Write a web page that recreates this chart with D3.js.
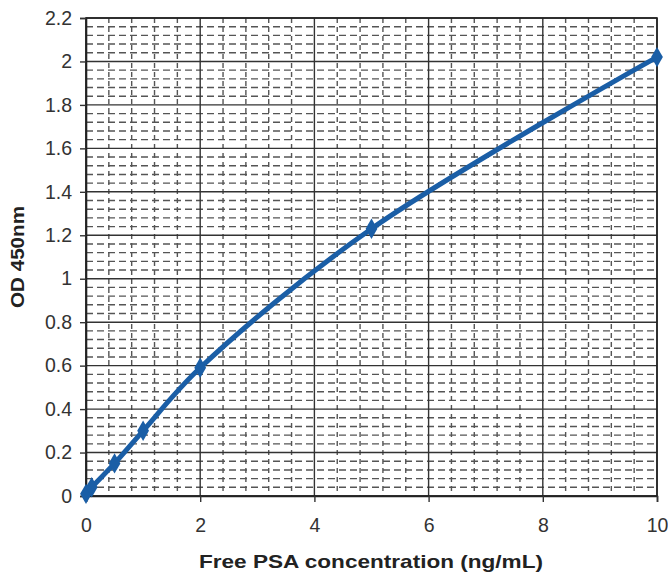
<!DOCTYPE html>
<html><head><meta charset="utf-8">
<script src="https://cdn.jsdelivr.net/npm/d3@7"></script>
<style>body{margin:0;background:#fff;} svg{display:block;font-family:"Liberation Sans",Arial,sans-serif;}</style>
</head><body>
<svg id="c" width="668" height="576"></svg>
<script>
const concentration = [0, 0.1, 0.5, 1, 2, 5, 10];
const od450 = [0.01, 0.04, 0.15, 0.30, 0.59, 1.23, 2.02];
const xTicks = [0, 2, 4, 6, 8, 10];
const yTicks = [0, 0.2, 0.4, 0.6, 0.8, 1, 1.2, 1.4, 1.6, 1.8, 2, 2.2];
const xLabel = "Free PSA concentration (ng/mL)";
const yLabel = "OD 450nm";

const svg = d3.select("#c");
const m = {l: 86, r: 657, t: 18, b: 496};
const x = d3.scaleLinear().domain([0, 10]).range([m.l, m.r]);
const y = d3.scaleLinear().domain([0, 2.2]).range([m.b, m.t]);

const g = svg.append("g");
// minor grid
const minorY = d3.range(0, 2.2001, 0.04).filter(v => Math.abs(v/0.2 - Math.round(v/0.2)) > 1e-6);
const minorX = d3.range(0, 10.001, 0.4).filter(v => Math.abs(v/2 - Math.round(v/2)) > 1e-6);
g.selectAll(".mh").data(minorY).join("line")
  .attr("x1", m.l).attr("x2", m.r).attr("y1", d => y(d)).attr("y2", d => y(d))
  .attr("stroke", "#555").attr("stroke-width", 1.4).attr("stroke-dasharray", "7,4");
g.selectAll(".mv").data(minorX).join("line")
  .attr("y1", m.t).attr("y2", m.b).attr("x1", d => x(d)).attr("x2", d => x(d))
  .attr("stroke", "#555").attr("stroke-width", 1.4).attr("stroke-dasharray", "5,4");
// major grid
g.selectAll(".Mh").data(yTicks).join("line")
  .attr("x1", m.l).attr("x2", m.r).attr("y1", d => y(d)).attr("y2", d => y(d))
  .attr("stroke", "#333").attr("stroke-width", 1.4);
g.selectAll(".Mv").data(xTicks).join("line")
  .attr("y1", m.t).attr("y2", m.b).attr("x1", d => x(d)).attr("x2", d => x(d))
  .attr("stroke", "#333").attr("stroke-width", 1.4);
// frame
g.append("rect").attr("x", m.l).attr("y", m.t).attr("width", m.r - m.l).attr("height", m.b - m.t)
  .attr("fill", "none").attr("stroke", "#222").attr("stroke-width", 1.6);

// axes
const yAxis = svg.append("g").attr("transform", `translate(${m.l},0)`)
  .call(d3.axisLeft(y).tickValues(yTicks).tickSize(6).tickPadding(8).tickFormat(d3.format("~g")));
const xAxis = svg.append("g").attr("transform", `translate(0,${m.b})`)
  .call(d3.axisBottom(x).tickValues(xTicks).tickSize(6).tickPadding(16).tickFormat(d3.format("~g")));
[yAxis, xAxis].forEach(a => {
  a.select(".domain").attr("stroke", "#222").attr("stroke-width", 1.6);
  a.selectAll(".tick line").attr("stroke", "#333").attr("stroke-width", 1.4);
  a.selectAll(".tick text").attr("font-size", 19.5).attr("fill", "#333")
    .attr("font-family", "'Liberation Sans',Arial,sans-serif");
});

// line
const data = concentration.map((c, i) => ({c, v: od450[i]}));
svg.append("path").datum(data)
  .attr("d", d3.line().x(d => x(d.c)).y(d => y(d.v)).curve(d3.curveCatmullRom.alpha(0.5)))
  .attr("fill", "none").attr("stroke", "#1a5ea6").attr("stroke-width", 5).attr("stroke-linejoin", "round");
svg.selectAll(".pt").data(data).join("path")
  .attr("transform", d => `translate(${x(d.c)},${y(d.v)})`)
  .attr("d", d3.symbol(d3.symbolDiamond, 120))
  .attr("fill", "#1a5ea6");

// labels
svg.append("text").attr("x", 371).attr("y", 568).attr("text-anchor", "middle")
  .attr("font-size", 19).attr("font-weight", "bold").attr("fill", "#222")
  .attr("textLength", 344).attr("lengthAdjust", "spacingAndGlyphs").text(xLabel);
svg.append("text").attr("transform", "translate(24,257) rotate(-90)").attr("text-anchor", "middle")
  .attr("font-size", 19).attr("font-weight", "bold").attr("fill", "#222")
  .attr("textLength", 102).attr("lengthAdjust", "spacingAndGlyphs").text(yLabel);
</script>
</body></html>
